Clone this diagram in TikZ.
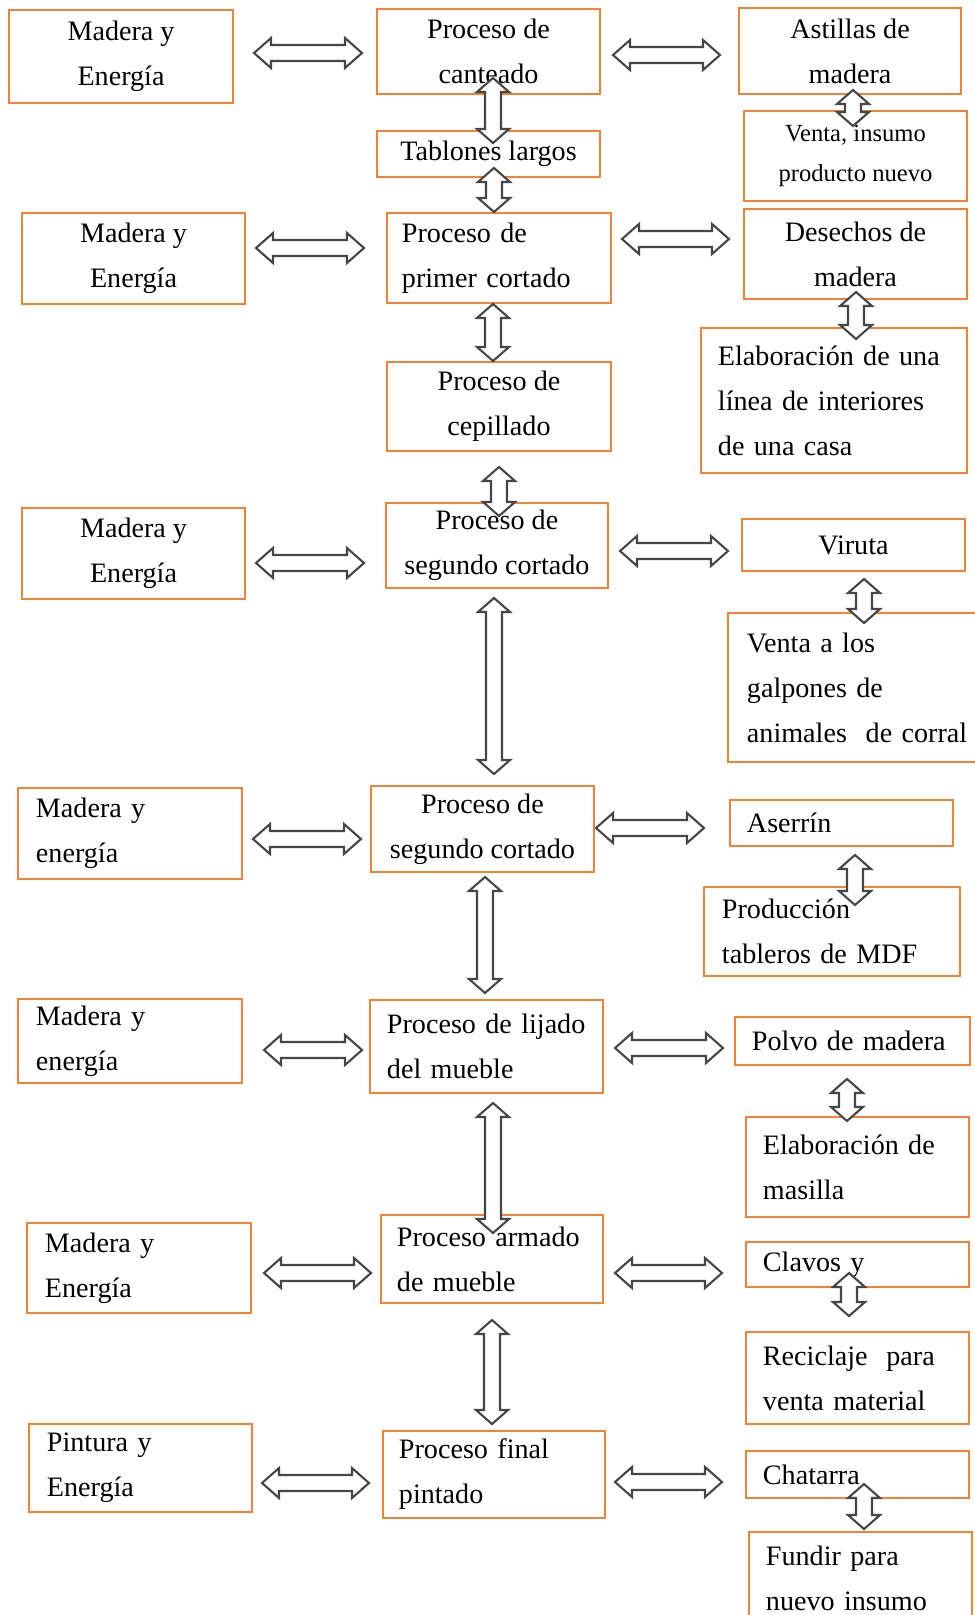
\documentclass[tikz,border=0pt]{standalone}
\usepackage{fontspec}
\setmainfont{Liberation Serif}
\usepackage{xcolor}
\definecolor{boxorange}{RGB}{247,129,48}
\definecolor{arrgray}{RGB}{70,70,70}
\usetikzlibrary{calc}

\tikzset{
  box/.style={draw=boxorange, line width=1.4pt, inner sep=0pt, align=center, font=\fontsize{20}{32}\selectfont},
  lbox/.style={box, align=left, inner xsep=#1},
  blockarr/.style={draw=arrgray, fill=white, line width=1.5pt, line join=miter},
}

% block double arrow, left node -> right node (gap left, gap right, y)
\newcommand{\hdbl}[5]{%
  \coordinate (ha) at ($(#1.east |- 0,#5)+(#3,0)$);
  \coordinate (hb) at ($(#2.west |- 0,#5)+(-#4,0)$);
  \draw[blockarr] (ha) -- ++(17,-15) -- ++(0,7) -- ($(hb)+(-17,-8)$) -- ++(0,-7) -- (hb)
    -- ++(-17,15) -- ++(0,-7) -- ($(ha)+(17,8)$) -- ++(0,7) -- cycle;
}
% block double arrow, top node -> bottom node (shift top, shift bottom, x)
\newcommand{\vdbl}[5]{%
  \coordinate (va) at ($(#1.south -| #5,0)+(0,#3)$);
  \coordinate (vb) at ($(#2.north -| #5,0)+(0,#4)$);
  \draw[blockarr] (va) -- ++(16,14) -- ++(-8,0) -- ($(vb)+(8,-14)$) -- ++(8,0) -- (vb)
    -- ++(-16,-14) -- ++(8,0) -- ($(va)+(-8,14)$) -- ++(-8,0) -- cycle;
}

\begin{document}
\begin{tikzpicture}[x=0.025cm, y=-0.025cm]
  \useasboundingbox (0,0) rectangle (974,1615);

  % Left column: inputs
  \node[box, minimum width=5.6cm, minimum height=2.325cm] (l1) at (121,56.5) {Madera y\\Energía};
  \node[box, minimum width=5.575cm, minimum height=2.275cm] (l2) at (133.5,258.5) {Madera y\\Energía};
  \node[box, minimum width=5.575cm, minimum height=2.275cm] (l3) at (133.5,553.5) {Madera y\\Energía};
  \node[lbox=0.45cm, text width=4.7cm, minimum height=2.275cm] (l4) at (130,833.5) {Madera y\\energía};
  \node[lbox=0.45cm, text width=4.7cm, minimum height=2.1cm] (l5) at (130,1041) {Madera y\\energía};
  \node[lbox=0.45cm, text width=4.7cm, minimum height=2.25cm] (l6) at (139,1268) {Madera y\\Energía};
  \node[lbox=0.45cm, text width=4.675cm, minimum height=2.2cm] (l7) at (140.5,1468) {Pintura y\\Energía};

  % Centre column: processes
  \node[box, minimum width=5.575cm, minimum height=2.125cm] (c1) at (488.5,51.5) {Proceso de\\canteado};
  \node[box, minimum width=5.575cm, minimum height=1.15cm] (c2) at (488.5,154) {Tablones largos};
  \node[lbox=0.375cm, text width=4.85cm, minimum height=2.25cm] (c3) at (499,258) {Proceso de\\primer cortado};
  \node[box, minimum width=5.6cm, minimum height=2.225cm] (c4) at (499,406.5) {Proceso de\\cepillado};
  \node[box, minimum width=5.55cm, minimum height=2.125cm] (c5) at (497,545.5) {Proceso de\\segundo cortado};
  \node[box, minimum width=5.575cm, minimum height=2.15cm] (c6) at (482.5,829) {Proceso de\\segundo cortado};
  \node[lbox=0.425cm, text width=4.975cm, minimum height=2.325cm] (c7) at (486.5,1046.5) {Proceso de lijado\\del mueble};
  \node[lbox=0.4cm, text width=4.75cm, minimum height=2.2cm] (c8) at (492,1259) {Proceso armado\\de mueble};
  \node[lbox=0.4cm, text width=4.75cm, minimum height=2.175cm] (c9) at (494,1474.5) {Proceso final\\pintado};

  % Right column: by-products and their use
  \node[box, minimum width=5.55cm, minimum height=2.15cm] (r1) at (850,51) {Astillas de\\madera};
  \node[box, minimum width=5.575cm, minimum height=2.25cm, font=\fontsize{17.5}{28.5}\selectfont] (r2) at (855.5,156) {Venta, insumo\\producto nuevo};
  \node[box, minimum width=5.575cm, minimum height=2.25cm] (r3) at (855.5,254) {Desechos de\\madera};
  \node[lbox=0.425cm, text width=5.8cm, minimum height=3.625cm] (r4) at (834,400.5) {Elaboración de una\\línea de interiores\\de una casa};
  \node[box, minimum width=5.575cm, minimum height=1.3cm] (r5) at (853.5,545) {Viruta};
  \node[lbox=0.475cm, text width=5.6cm, minimum height=3.725cm] (r6) at (859,687.5) {Venta a los\\galpones de\\animales\ \ de corral};
  \node[lbox=0.425cm, text width=4.725cm, minimum height=1.15cm] (r7) at (841.5,823) {Aserrín};
  \node[lbox=0.45cm, text width=5.5cm, minimum height=2.225cm] (r8) at (832,931.5) {Producción\\tableros de MDF};
  \node[lbox=0.425cm, text width=5.025cm, minimum height=1.2cm] (r9) at (852.5,1041) {Polvo de madera};
  \node[lbox=0.425cm, text width=4.725cm, minimum height=2.5cm] (r10) at (857.5,1167) {Elaboración de\\masilla};
  \node[lbox=0.425cm, text width=4.725cm, minimum height=1.125cm] (r11) at (857.5,1264.5) {Clavos y};
  \node[lbox=0.425cm, text width=4.725cm, minimum height=2.3cm] (r12) at (857.5,1378) {Reciclaje\ \ para\\venta material};
  \node[lbox=0.425cm, text width=4.725cm, minimum height=1.175cm] (r13) at (857.5,1474.5) {Chatarra};
  \node[lbox=0.425cm, text width=4.725cm, minimum height=2.3cm] (r14) at (860.5,1578) {Fundir para\\nuevo insumo};

  % Horizontal arrows
  \hdbl{l1}{c1}{20}{14}{53}
  \hdbl{c1}{r1}{12}{18}{55}
  \hdbl{l2}{c3}{10}{22}{248}
  \hdbl{c3}{r3}{10}{14}{239}
  \hdbl{l3}{c5}{10}{21}{563}
  \hdbl{c5}{r5}{11}{13}{551}
  \hdbl{l4}{c6}{10}{9}{839}
  \hdbl{c6}{r7}{1}{25}{828}
  \hdbl{l5}{c7}{21}{7}{1050}
  \hdbl{c7}{r9}{11}{11}{1048}
  \hdbl{l6}{c8}{12}{9}{1273}
  \hdbl{c8}{r11}{11}{23}{1273}
  \hdbl{l7}{c9}{9}{13}{1483}
  \hdbl{c9}{r13}{9}{23}{1482}

  % Vertical arrows, centre column
  \vdbl{c1}{c2}{-17}{13}{493}
  \vdbl{c2}{c3}{-10}{0}{494}
  \vdbl{c3}{c4}{0}{0}{493}
  \vdbl{c4}{c5}{15}{14}{499}
  \vdbl{c5}{c6}{9}{-11}{494}
  \vdbl{c6}{c7}{4}{-6}{485}
  \vdbl{c7}{c8}{9}{19}{493}
  \vdbl{c8}{c9}{16}{-6}{492}

  % Vertical arrows, right column
  \vdbl{r1}{r2}{-5}{16}{853}
  \vdbl{r3}{r4}{-8}{12}{856}
  \vdbl{r5}{r6}{7}{11}{864}
  \vdbl{r7}{r8}{8}{19}{855}
  \vdbl{r9}{r10}{13}{5}{847}
  \vdbl{r11}{r12}{-15}{-15}{849}
  \vdbl{r13}{r14}{-15}{-2}{864}
\end{tikzpicture}
\end{document}
